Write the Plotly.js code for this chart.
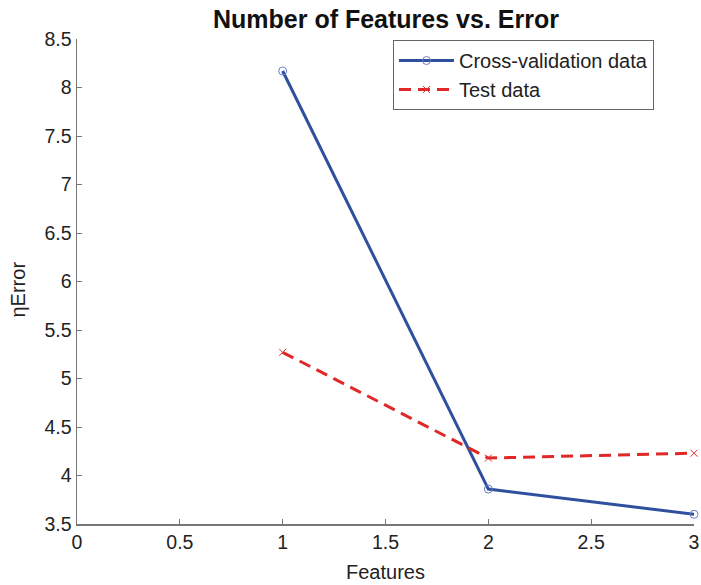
<!DOCTYPE html>
<html>
<head>
<meta charset="utf-8">
<script src="https://cdn.plot.ly/plotly-3.0.1.min.js"></script>
<style>html,body{margin:0;padding:0;background:#fff;}#chart{width:701px;height:585px;}</style>
</head>
<body>
<div id="chart"></div>
<script>
const features = [1, 2, 3];
const cvError = [8.17, 3.86, 3.60];
const testError = [5.27, 4.18, 4.23];
const xTicks = [0, 0.5, 1, 1.5, 2, 2.5, 3];
const yTicks = [3.5, 4, 4.5, 5, 5.5, 6, 6.5, 7, 7.5, 8, 8.5];
const seriesNames = ['Cross-validation data', 'Test data'];

const F = 'Liberation Sans, Arial, Helvetica, sans-serif';

const traces = [
  {
    x: features, y: cvError, name: seriesNames[0], type: 'scatter', mode: 'lines+markers',
    line: {color: '#2f4f9f', width: 3},
    marker: {symbol: 'circle-open', size: 8, color: '#6a7ec8', line: {width: 1}},
    cliponaxis: false
  },
  {
    x: features, y: testError, name: seriesNames[1], type: 'scatter', mode: 'lines+markers',
    line: {color: '#e02828', width: 3, dash: '12px,7px'},
    marker: {symbol: 'x-thin-open', size: 7, color: '#e03030', line: {width: 1, color: '#e03030'}},
    cliponaxis: false
  }
];

const layout = {
  width: 701, height: 585,
  margin: {l: 77, r: 7, t: 39, b: 61},
  paper_bgcolor: '#fff', plot_bgcolor: '#fff',
  font: {family: F, size: 20, color: '#222'},
  showlegend: true,
  legend: {
    x: (393 - 77) / 617, y: 1 - (40 - 39) / 485, xanchor: 'left', yanchor: 'top',
    bordercolor: '#666', borderwidth: 1, bgcolor: '#fff',
    font: {family: F, size: 20, color: '#222'},
    tracegroupgap: 0, itemwidth: 55
  },
  xaxis: {
    range: [0, 3], tickvals: xTicks, ticktext: xTicks.map(String),
    showgrid: false, zeroline: false, showline: true, linecolor: '#777', linewidth: 1.5,
    ticks: 'inside', ticklen: 5, tickcolor: '#777', mirror: false,
    tickfont: {family: F, size: 19.5, color: '#222'}
  },
  yaxis: {
    range: [3.5, 8.5], tickvals: yTicks, ticktext: yTicks.map(String),
    showgrid: false, zeroline: false, showline: true, linecolor: '#777', linewidth: 1.5,
    ticks: 'inside', ticklen: 5, tickcolor: '#777', mirror: false,
    tickfont: {family: F, size: 19.5, color: '#222'}
  },
  annotations: [
    {text: '<b>Number of Features vs. Error</b>', xref: 'paper', yref: 'paper', x: 0.5, y: 1, yshift: 20,
     xanchor: 'center', yanchor: 'middle', showarrow: false, font: {family: F, size: 25, color: '#111'}},
    {text: 'Features', xref: 'paper', yref: 'paper', x: 0.5, y: 0, yshift: -48,
     xanchor: 'center', yanchor: 'middle', showarrow: false, font: {family: F, size: 20, color: '#222'}},
    {text: 'ηError', xref: 'paper', yref: 'paper', x: 0, xshift: -60, y: 0.5, yshift: -8,
     xanchor: 'center', yanchor: 'middle', textangle: -90, showarrow: false, font: {family: F, size: 20, color: '#222'}}
  ]
};

Plotly.newPlot('chart', traces, layout, {displayModeBar: false, staticPlot: true});
</script>
</body>
</html>
